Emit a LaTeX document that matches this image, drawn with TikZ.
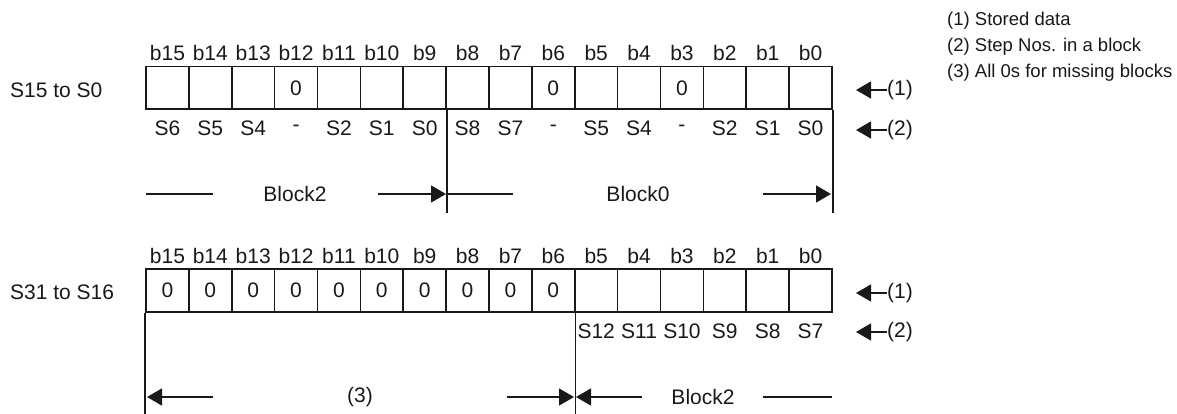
\documentclass[tikz,border=0pt]{standalone}
\usepackage{fontspec}
\setmainfont{Liberation Sans}
\usetikzlibrary{arrows.meta}
\begin{document}
\begin{tikzpicture}[x=1pt,y=-1pt,
  txt/.style={inner sep=0pt,font=\fontsize{21}{24}\selectfont,text=black!90},
  legend/.style={inner sep=0pt,anchor=west,font=\fontsize{18.5}{22}\selectfont,text=black!90},
  cell/.style={draw=black!90,line width=1.6pt,minimum width=42.875pt,minimum height=42.6pt,inner sep=0pt,font=\fontsize{21}{24}\selectfont,text=black!90},
  vline/.style={draw=black!90,line width=1.5pt},
  bline/.style={draw=black!90,line width=1.4pt},
  barrow/.style={draw=black!90,line width=1.4pt,-{Triangle[length=15pt,width=17pt]}}]
\useasboundingbox (0,0) rectangle (1177,414);
% legend
\node[legend] (lg1) at (947,21) {(1) Stored data};
\node[legend] (lg2) at (947,47) {(2) Step Nos. in a block};
\node[legend] (lg3) at (947,73) {(3) All 0s for missing blocks};
% row labels
\node[txt,anchor=west] (r1) at (10,90) {S15 to S0};
\node[txt,anchor=west] (r2) at (10,292) {S31 to S16};
% top register
\foreach \i/\v/\s in {0//S6,1//S5,2//S4,3/0/-,4//S2,5//S1,6//S0,7//S8,8//S7,9/0/-,10//S5,11//S4,12/0/-,13//S2,14//S1,15//S0}{
  \pgfmathtruncatemacro{\b}{15-\i}
  \node[txt] (tb\i) at ({146+(\i+0.5)*42.875},53) {b\b};
  \node[cell] (t\i) at ({146+(\i+0.5)*42.875},88) {\v};
  \node[txt] (ts\i) at ({146+(\i+0.5)*42.875},128) {\s};
}
% bottom register
\foreach \i/\v/\s in {0/0/,1/0/,2/0/,3/0/,4/0/,5/0/,6/0/,7/0/,8/0/,9/0/,10//S12,11//S11,12//S10,13//S9,14//S8,15//S7}{
  \pgfmathtruncatemacro{\b}{15-\i}
  \node[txt] (ub\i) at ({146+(\i+0.5)*42.875},256) {b\b};
  \node[cell] (u\i) at ({146+(\i+0.5)*42.875},290.5) {\v};
  \node[txt] (us\i) at ({146+(\i+0.5)*42.875},331) {\s};
}
% vertical boundary lines
\coordinate (ytop) at (0,213);
\coordinate (ybot) at (0,414);
\draw[vline] (t6.south east) -- (t6.south east |- ytop);
\draw[vline] (t15.south east) -- (t15.south east |- ytop);
\draw[vline] (u0.south west) -- (u0.south west |- ybot);
\draw[vline] (u9.south east) -- (u9.south east |- ybot);
% top block arrows
\coordinate (a1) at (146,194); \coordinate (a2) at (213,194);
\coordinate (a3) at (378,194); \coordinate (a4) at (446,194);
\coordinate (a5) at (447,194); \coordinate (a6) at (513,194);
\coordinate (a7) at (763,194); \coordinate (a8) at (831,194);
\draw[bline] (a1) -- (a2);
\node[txt] (blk2t) at (295,194) {Block2};
\draw[barrow] (a3) -- (a4);
\draw[bline] (a5) -- (a6);
\node[txt] (blk0t) at (638,194) {Block0};
\draw[barrow] (a7) -- (a8);
% bottom block arrows
\coordinate (c1) at (147,397); \coordinate (c2) at (213,397);
\coordinate (c3) at (507,397); \coordinate (c4) at (574,397);
\coordinate (c5) at (576,397); \coordinate (c6) at (642,397);
\coordinate (c7) at (763,397); \coordinate (c8) at (832,397);
\draw[barrow] (c2) -- (c1);
\node[txt] (m3) at (360,397) {(3)};
\draw[barrow] (c3) -- (c4);
\draw[barrow] (c6) -- (c5);
\node[txt] (blk2b) at (703,397) {Block2};
\draw[bline] (c7) -- (c8);
% side markers
\node[txt,anchor=west] (p1t) at (887,90) {(1)};
\node[txt,anchor=west] (p2t) at (887,130) {(2)};
\node[txt,anchor=west] (p1b) at (887,293) {(1)};
\node[txt,anchor=west] (p2b) at (887,332) {(2)};
\coordinate (q1t) at (856,90);
\coordinate (q2t) at (856,130);
\coordinate (q1b) at (856,293);
\coordinate (q2b) at (856,332);
\draw[barrow] (p1t.west) -- (q1t);
\draw[barrow] (p2t.west) -- (q2t);
\draw[barrow] (p1b.west) -- (q1b);
\draw[barrow] (p2b.west) -- (q2b);
\end{tikzpicture}
\end{document}
